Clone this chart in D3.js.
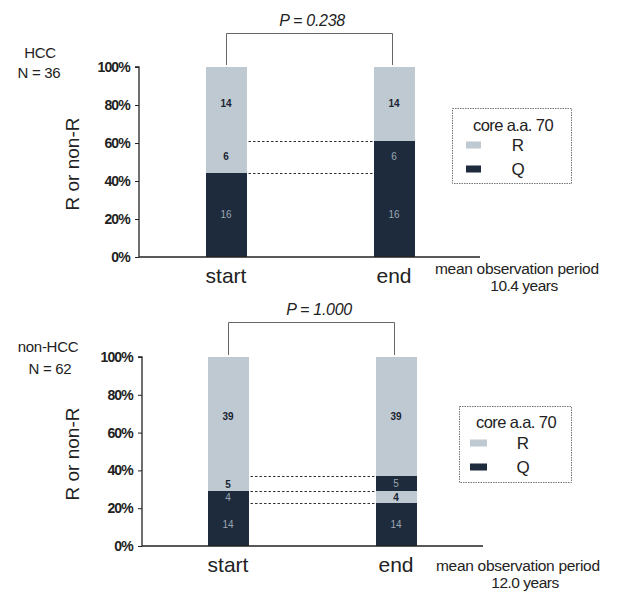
<!DOCTYPE html>
<html><head><meta charset="utf-8">
<script src="https://cdn.jsdelivr.net/npm/d3@7/dist/d3.min.js"></script>
<style>body{margin:0;background:#fff;}svg{display:block;font-family:"Liberation Sans",Arial,sans-serif;}</style>
</head><body>
<svg id="chart" width="628" height="591"></svg>
<script>
// ---- data ----
const categories = ["start", "end"];
const yTicks = [0, 20, 40, 60, 80, 100];
const seriesNames = ["R", "Q"];

const hccStartValues = [16, 6, 14];
const hccStartGroups = ["Q", "R", "R"];
const hccEndValues = [16, 6, 14];
const hccEndGroups = ["Q", "Q", "R"];

const nonStartValues = [14, 4, 5, 39];
const nonStartGroups = ["Q", "Q", "R", "R"];
const nonEndValues = [14, 4, 5, 39];
const nonEndGroups = ["Q", "R", "Q", "R"];

const pValues = ["0.238", "1.000"];
const groupLabels = [["HCC", "N = 36"], ["non-HCC", "N = 62"]];
const periods = ["10.4 years", "12.0 years"];

// ---- style ----
const colors = {R: "#bec9d1", Q: "#1e2b3c"};
const svg = d3.select("#chart");

const panels = [
  {start: [hccStartValues, hccStartGroups], end: [hccEndValues, hccEndGroups],
   p: pValues[0], label: groupLabels[0], period: periods[0],
   axisX: 139, axisEnd: 480, y0: 257, y1: 67, cx: [226, 394], bracketY: 33, pX: 312, pY: 26,
   titleY: 164, labelX: [40, 39], labelY: [58, 78], catY: 283, perX: 435, perY: 274, per2X: 524, per2Y: 291,
   legend: {x: 452, y: 108, w: 119, h: 75, tx: 513, ty: 131, sx: 466, sw: 15, ry: 145, qy: 169, lx: 518}},
  {start: [nonStartValues, nonStartGroups], end: [nonEndValues, nonEndGroups],
   p: pValues[1], label: groupLabels[1], period: periods[1],
   axisX: 142, axisEnd: 483, y0: 546, y1: 357, cx: [228, 396], bracketY: 322, pX: 319, pY: 315,
   titleY: 454, labelX: [48, 50], labelY: [352, 374], catY: 572, perX: 436, perY: 571, per2X: 525, per2Y: 588,
   legend: {x: 459, y: 406, w: 112, h: 76, tx: 516, ty: 428, sx: 470, sw: 17, ry: 443, qy: 467, lx: 523}}
];

panels.forEach(P => {
  const g = svg.append("g");
  const y = d3.scaleLinear().domain([0, 100]).range([P.y0, P.y1]);
  const x = d3.scalePoint().domain(categories).range(P.cx);
  const barW = 41;

  const bars = {start: P.start, end: P.end};
  const cumulative = {};
  categories.forEach(cat => {
    const [vals, groups] = bars[cat];
    const total = d3.sum(vals);
    let acc = 0;
    const segs = vals.map((v, i) => {
      const s = {cat, v, grp: groups[i], lo: acc / total * 100, hi: (acc + v) / total * 100};
      acc += v; return s;
    });
    cumulative[cat] = segs;
    g.selectAll(null).data(segs).enter().append("rect")
      .attr("x", d => x(d.cat) - barW / 2)
      .attr("width", barW)
      .attr("y", d => Math.round(y(d.hi)))
      .attr("height", d => Math.round(y(d.lo)) - Math.round(y(d.hi)))
      .attr("shape-rendering", "crispEdges")
      .attr("fill", d => colors[d.grp]);
    g.selectAll(null).data(segs).enter().append("text")
      .attr("x", d => x(d.cat))
      .attr("y", d => {
        const mid = (y(d.lo) + y(d.hi)) / 2;
        return (d.v <= 5 && d.grp === "R" && cat === "start") ? y(d.lo) - 3 : mid + 3.5;
      })
      .attr("text-anchor", "middle")
      .attr("font-size", 10)
      .attr("font-weight", d => d.grp === "R" ? "bold" : "normal")
      .attr("fill", d => d.grp === "R" ? "#1a2433" : "#9aa7b4")
      .text(d => d.v);
  });

  const bounds = cumulative.start.slice(0, -1).map(s => s.hi);
  g.selectAll(null).data(bounds).enter().append("line")
    .attr("x1", x("start") + barW / 2 + 2)
    .attr("x2", x("end") - barW / 2 - 1)
    .attr("y1", d => Math.round(y(d)) + 0.5).attr("y2", d => Math.round(y(d)) + 0.5)
    .attr("stroke", "#333").attr("stroke-width", 1).attr("stroke-dasharray", "2.5,2");

  const yAxis = d3.axisLeft(y).tickValues(yTicks).tickSize(4).tickFormat(d => d + "%");
  const ax = g.append("g").attr("transform", `translate(${P.axisX},0)`).call(yAxis);
  ax.select(".domain").attr("stroke", "#222").attr("stroke-width", 1.3).attr("d", `M-4,${P.y1}H0V${P.y0}`);
  ax.selectAll(".tick line").attr("stroke", "#222");
  ax.selectAll(".tick text").attr("font-size", 14).attr("font-weight", "bold")
    .attr("letter-spacing", -0.8).attr("fill", "#222").attr("x", -9)
    .attr("font-family", '"Liberation Sans",Arial,sans-serif');
  g.append("line").attr("x1", P.axisX).attr("x2", P.axisEnd).attr("y1", P.y0).attr("y2", P.y0)
    .attr("stroke", "#222").attr("stroke-width", 1.5);

  g.selectAll(null).data(categories).enter().append("text")
    .attr("x", d => x(d)).attr("y", P.catY).attr("text-anchor", "middle")
    .attr("font-size", 21).attr("fill", "#222").text(d => d);

  g.append("text").attr("transform", `translate(79,${P.titleY}) rotate(-90)`)
    .attr("text-anchor", "middle").attr("font-size", 19).attr("fill", "#222").text("R or non-R");

  P.label.forEach((t, i) => g.append("text").attr("x", P.labelX[i]).attr("y", P.labelY[i])
    .attr("text-anchor", "middle").attr("font-size", 15).attr("letter-spacing", -0.3).attr("fill", "#222").text(t));

  const bx1 = x("start"), bx2 = x("end") - 2;
  g.append("path").attr("d", `M${bx1 + 0.5},${y(100) - 2}V${P.bracketY + 0.5}H${bx2 + 0.5}V${y(100) - 2}`)
    .attr("fill", "none").attr("stroke", "#666").attr("stroke-width", 1);
  const pt = g.append("text").attr("x", P.pX).attr("y", P.pY).attr("text-anchor", "middle")
    .attr("font-size", 16).attr("font-style", "italic").attr("letter-spacing", -0.3).attr("fill", "#222");
  pt.append("tspan").text("P");
  pt.append("tspan").text(" = " + P.p);

  g.append("text").attr("x", P.perX).attr("y", P.perY).attr("font-size", 15.5)
    .attr("letter-spacing", -0.3).attr("fill", "#222").text("mean observation period");
  g.append("text").attr("x", P.per2X).attr("y", P.per2Y).attr("text-anchor", "middle")
    .attr("font-size", 15.5).attr("letter-spacing", -0.5).attr("fill", "#222").text(P.period);

  const L = P.legend;
  g.append("rect").attr("x", L.x + 0.5).attr("y", L.y + 0.5).attr("width", L.w).attr("height", L.h)
    .attr("fill", "#fff").attr("stroke", "#777").attr("stroke-width", 1).attr("stroke-dasharray", "1.5,1");
  g.append("text").attr("x", L.tx).attr("y", L.ty).attr("text-anchor", "middle")
    .attr("font-size", 16.5).attr("letter-spacing", -0.6).attr("fill", "#222").text("core a.a. 70");
  seriesNames.forEach((s, i) => {
    const cy = i === 0 ? L.ry : L.qy;
    g.append("rect").attr("x", L.sx).attr("y", cy - 3.5).attr("width", L.sw).attr("height", 7)
      .attr("fill", colors[s]);
    g.append("text").attr("x", L.lx).attr("y", cy + 6).attr("text-anchor", "middle")
      .attr("font-size", 17).attr("fill", "#222").text(s);
  });
});
</script>
</body></html>
